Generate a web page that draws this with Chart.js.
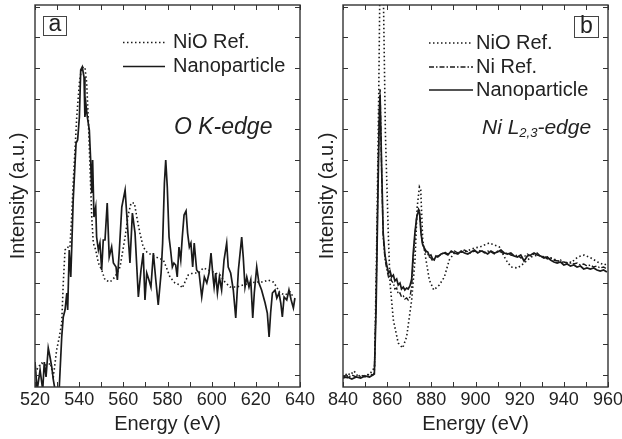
<!DOCTYPE html>
<html><head><meta charset="utf-8">
<script src="https://cdn.jsdelivr.net/npm/chart.js@4.4.1/dist/chart.umd.min.js"></script>
<style>
html,body{margin:0;padding:0;background:#fff;overflow:hidden;width:622px;height:439px;position:relative;}
canvas{position:absolute;top:0;}
#ca{left:0;}
#cb{left:300px;}
</style></head><body>
<canvas id="ca" width="330" height="439"></canvas>
<canvas id="cb" width="330" height="439"></canvas>
<script>
// ---------- Panel a: O K-edge ----------
const oKNiOEnergy = [520,521.5,523,524.5,526,527,528.3,529.8,531,532.1,532.8,533.6,534.6,535.8,536.6,537.3,538.1,538.9,540.1,541.1,542.6,543.4,544.1,544.9,545.7,546.4,547.5,548.7,550.2,551.7,554,556.2,558.5,560.8,562.2,563.5,565,566.1,567.5,569,570.6,572.8,575.8,578.1,579.6,581.1,583.4,585.7,586.7,587.9,589.4,591.7,594,596.2,598.5,600.7,603.8,606,608.3,611.3,614.3,617.4,620.4,623.4,625.6,627.9,629.4,630.9,633.2,635.5,637];
const oKNiO = [14,20,24,22,22,24,10,37,50,64,104,137,140,139,170,204,237,270,304,319,320,304,270,220,170,144,137,124,117,107,105,110,120,150,172,184,184,170,154,140,135,132,129,127,119,110,104,102,99,105,112,114,114,119,117,115,112,105,100,100,102,104,105,105,107,105,100,94,92,95,90];
const oKNanoEnergy = [520,521,522.3,523.5,524.2,525,526,526.8,527.6,528.3,529.1,530.6,531,532.1,532.8,533.6,534.4,534.8,535.5,536.2,536.6,537.3,538.6,539.3,540.1,540.7,541.4,542.2,542.6,543.1,543.7,544.6,545.2,545.7,546.1,546.7,547.5,547.9,548.7,549.4,550.2,550.9,551.7,552.7,553.6,554.7,555.5,556.7,557.3,558.2,559.3,560.8,561.5,563,564.1,565.3,566.8,568,569,569.8,570.6,571.6,572.5,573.6,574.7,575.8,577.1,577.8,578.6,579.2,579.9,580.7,581.4,582.2,582.9,583.7,584.4,585.2,586,586.7,587.5,588.4,589.1,589.9,590.6,591.4,592.1,593.2,594.3,595.5,596.7,597.8,598.8,599.7,600.7,601.1,601.8,602.6,603.5,604.5,605.6,606.8,607.5,608.6,609.8,610.9,612.1,613.6,614.3,615.1,615.9,616.9,617.7,618.6,619.3,620.4,621.4,622.6,624.2,625.2,626,626.7,627.5,628.7,629.5,630.5,631.3,632,632.8,634,635,636,637,637.7];
const oKNano = [25,-3,17,-3,25,10,39,30,20,7,-3,-3,0,50,70,77,94,77,137,110,137,187,244,247,270,317,320,310,270,282,270,257,227,194,227,170,180,150,137,144,117,147,147,184,130,140,124,120,107,137,180,197,174,124,174,154,90,117,134,87,114,107,100,134,107,82,114,144,204,227,200,150,137,120,124,122,110,140,127,150,172,176,154,140,144,120,144,117,114,90,110,104,114,134,108,100,114,94,110,97,127,144,120,114,97,69,117,150,130,100,110,100,107,69,94,120,104,97,84,74,50,74,94,97,89,94,84,70,90,87,97,87,79,89];
const oKTicks = [520,530,540,550,560,570,580,590,600,610,620,630,640];
const oKTickLabels = [520,540,560,580,600,620,640];

// ---------- Panel b: Ni L2,3-edge ----------
const niLNiOEnergy = [840,842,843.3,845,847,849,851,852.5,853.5,854.3,855.3,856.2,856.8,857.4,858,858.3,859.2,860.5,861.3,862.8,865,867,868.8,871.1,872.6,873.6,874.6,875.2,876.1,877.6,879.1,881.1,883.6,885.9,888.1,890.4,894.9,899.5,902,904,906.2,908.5,910.8,913.8,916.1,919.1,922.1,925.1,928.2,931.2,934.2,938.7,943.2,946.3,949.3,952.3,955.3,958.3,960];
const niLNiO = [9,14,12,16,10,11,12,14,17,20,150,297,420,480,440,390,254,154,104,67,44,39,50,87,127,180,200,197,147,127,107,97,102,110,127,134,135,139,140,142,144,142,140,127,120,119,124,130,132,130,129,125,124,130,132,129,125,122,124];
const niLEnergy = [840,842,844,846,848,850,852,853.5,854.2,855,855.8,856.4,856.8,857.5,858.2,859,859.8,860.6,861.3,862,862.8,863.5,864.3,865,865.8,866.5,867.3,868,868.8,869.5,870.3,871.1,871.8,872.6,873.4,874.2,874.7,875.3,876,876.8,877.6,878.4,879.1,879.8,880.6,881.3,882.1,882.9,884.4,885.9,887.5,889,890.5,892,893.5,895,896.5,898,899.5,901,902.5,904,905.5,907,908.5,910,911.5,913,914.5,916,917.5,919,920.5,922,923.5,925,926.5,928,929.5,931,932.5,934,935.5,937,938.5,940,941.5,943,944.5,946,947.5,949,950.5,952,953.5,955,956.5,958,959.5];
const niLNiRef = [11,9,12,10,12,10,13,12,14,90,200,275,298,215,150,128,118,110,112,106,104,98,99,93,94,90,91,88,89,87,90,100,128,152,170,178,176,156,144,138,134,133,130,129,126,128,130,131,132,135,133,135,136,134,135,137,135,134,136,135,137,134,136,135,133,136,135,133,134,132,131,132,129,130,133,131,133,134,130,131,128,129,127,126,127,125,124,125,123,124,122,123,121,122,120,121,119,120,118];
const niLNano = [9,10,8,10,9,11,10,12,13,80,190,265,292,220,154,132,122,114,116,110,112,106,108,102,104,98,100,97,99,98,101,108,134,155,170,176,174,154,143,139,136,135,131,132,128,127,131,130,133,134,132,136,134,133,136,134,133,135,137,134,136,135,133,136,134,135,137,134,133,134,131,130,132,126,131,132,134,132,131,129,130,127,125,124,125,122,123,121,122,120,121,118,119,118,119,117,116,117,115];
const niLTicks = [840,850,860,870,880,890,900,910,920,930,940,950,960];
const niLTickLabels = [840,860,880,900,920,940,960];

// Intensity (a.u.) tick marks (unlabelled)
const intensityTicks = [12,42.7,73.4,104.1,134.8,165.5,196.2,226.9,257.6,288.3,319,349.7,380.4];

const FONT = "'Liberation Sans', Arial, Helvetica, sans-serif";
Chart.defaults.font.family = FONT;
Chart.defaults.color = '#222';
const INK = '#1a1a1a';

function pts(xs, ys){ return xs.map((x,i)=>({x:x,y:ys[i]})); }

function makePlugin(cfg){
  return {
    id: 'decor',
    afterDraw(chart){
      const {ctx, chartArea:a, scales:{x,y}} = chart;
      ctx.save();
      // ticks (inward, all four sides)
      ctx.strokeStyle = '#333'; ctx.lineWidth = 1;
      ctx.beginPath();
      x.ticks.forEach(t=>{ const p = Math.round(x.getPixelForValue(t.value))+0.5;
        ctx.moveTo(p,a.bottom); ctx.lineTo(p,a.bottom-5);
        ctx.moveTo(p,a.top); ctx.lineTo(p,a.top+5); });
      y.ticks.forEach(t=>{ const p = Math.round(y.getPixelForValue(t.value))+0.5;
        ctx.moveTo(a.left,p); ctx.lineTo(a.left+5,p);
        ctx.moveTo(a.right,p); ctx.lineTo(a.right-5,p); });
      ctx.stroke();
      // frame
      ctx.lineWidth = 1.4; ctx.strokeStyle = '#333';
      ctx.strokeRect(a.left, a.top, a.right-a.left, a.bottom-a.top);
      // legend
      ctx.font = '20px ' + FONT; ctx.fillStyle = '#222'; ctx.textBaseline = 'middle'; ctx.textAlign = 'left';
      chart.data.datasets.forEach((ds,i)=>{
        const L = cfg.legend[i];
        ctx.save();
        ctx.strokeStyle = ds.borderColor; ctx.lineWidth = ds.borderWidth;
        ctx.setLineDash(ds.borderDash || []);
        ctx.beginPath(); ctx.moveTo(L.x0, L.y); ctx.lineTo(L.x1, L.y); ctx.stroke();
        ctx.restore();
        ctx.fillText(ds.label, L.xt, L.y);
      });
      // panel letter box
      const B = cfg.box;
      ctx.lineWidth = 1; ctx.strokeStyle = '#444';
      ctx.strokeRect(B.x+0.5, B.y+0.5, B.w, B.h);
      ctx.font = '23px ' + FONT; ctx.textAlign = 'center'; ctx.textBaseline = 'alphabetic';
      ctx.fillText(B.text, B.x + B.w/2 + 0.5, B.y + B.h - 4);
      // edge annotation
      ctx.textAlign = 'left'; ctx.textBaseline = 'middle';
      let xx = cfg.note.x;
      cfg.note.parts.forEach(p=>{
        ctx.font = 'italic ' + p.size + 'px ' + FONT;
        ctx.fillText(p.t, xx, cfg.note.y + (p.dy||0));
        xx += ctx.measureText(p.t).width;
      });
      ctx.restore();
    }
  };
}

function makeChart(id, datasets, xmin, xmax, ticks, labels, yTitlePad, padRight, plugCfg){
  return new Chart(document.getElementById(id), {
    type: 'line',
    data: { datasets: datasets },
    options: {
      responsive: false, animation: false, devicePixelRatio: 1,
      parsing: false, normalized: true,
      layout: { padding: { left: 0, right: padRight, top: 5, bottom: 0 } },
      plugins: { legend: { display: false }, tooltip: { enabled: false } },
      elements: { point: { radius: 0 }, line: { tension: 0 } },
      scales: {
        x: {
          type: 'linear', min: xmin, max: xmax,
          afterBuildTicks: s => { s.ticks = ticks.map(v => ({ value: v })); },
          afterFit: s => { s.height = 52; },
          grid: { display: false, drawTicks: false }, border: { display: false },
          ticks: { autoSkip: false, maxRotation: 0, padding: 2, font: { size: 18 }, color: '#222',
                   callback: v => labels.includes(v) ? String(v) : '' },
          title: { display: true, text: 'Energy (eV)', font: { size: 20 }, color: '#222', padding: { top: 0, bottom: 3 } }
        },
        y: {
          type: 'linear', min: 0, max: 382,
          afterBuildTicks: s => { s.ticks = intensityTicks.map(v => ({ value: v })); },
          afterFit: s => { s.width = plugCfg.yWidth; },
          grid: { display: false, drawTicks: false }, border: { display: false },
          ticks: { display: false },
          title: { display: true, text: 'Intensity (a.u.)', font: { size: 20 }, color: '#222', padding: { top: yTitlePad, bottom: 0 } }
        }
      }
    },
    plugins: [makePlugin(plugCfg)]
  });
}

const dotted = [1.5, 2.5];
const dashDot = [5, 2, 1.5, 2];

makeChart('ca', [
  { label: 'NiO Ref.', data: pts(oKNiOEnergy, oKNiO), borderColor: INK, borderWidth: 1.6, borderDash: dotted },
  { label: 'Nanoparticle', data: pts(oKNanoEnergy, oKNano), borderColor: INK, borderWidth: 1.7 }
], 520, 640, oKTicks, oKTickLabels, 6, 30, {
  yWidth: 35,
  legend: [ { x0: 123, x1: 165, xt: 173, y: 42.5 }, { x0: 123, x1: 165, xt: 173, y: 66.5 } ],
  box: { x: 43, y: 16, w: 23, h: 19, text: 'a' },
  note: { x: 174, y: 128, parts: [ { t: 'O K-edge', size: 23 } ] }
});

makeChart('cb', [
  { label: 'NiO Ref.', data: pts(niLNiOEnergy, niLNiO), borderColor: INK, borderWidth: 1.6, borderDash: dotted },
  { label: 'Ni Ref.', data: pts(niLEnergy, niLNiRef), borderColor: INK, borderWidth: 1.4, borderDash: dashDot },
  { label: 'Nanoparticle', data: pts(niLEnergy, niLNano), borderColor: INK, borderWidth: 1.7 }
], 840, 960, niLTicks, niLTickLabels, 15.7, 22, {
  yWidth: 43,
  legend: [ { x0: 129, x1: 173, xt: 176, y: 43 }, { x0: 129, x1: 173, xt: 176, y: 67 }, { x0: 129, x1: 173, xt: 176, y: 90 } ],
  box: { x: 274, y: 16, w: 24, h: 21, text: 'b' },
  note: { x: 182, y: 128, parts: [ { t: 'Ni L', size: 21 }, { t: '2,3', size: 13, dy: 5 }, { t: '-edge', size: 21 } ] }
});
</script>
</body></html>
